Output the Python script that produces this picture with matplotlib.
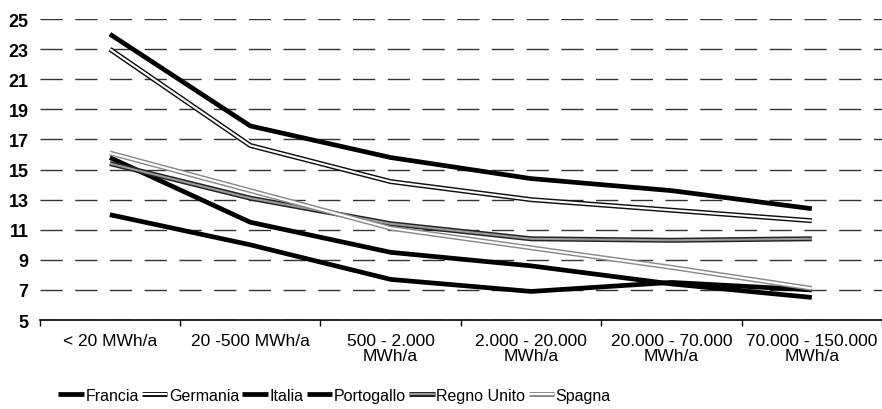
import matplotlib.pyplot as plt
import matplotlib.patheffects as pe
import numpy as np

# price bands (MWh/a) and values per country
categories = ["< 20 MWh/a", "20 -500 MWh/a", "500 - 2.000\nMWh/a",
              "2.000 - 20.000\nMWh/a", "20.000 - 70.000\nMWh/a",
              "70.000 - 150.000\nMWh/a"]
francia = [24.0, 17.9, 15.8, 14.4, 13.6, 12.4]
germania = [23.0, 16.6, 14.2, 13.0, 12.3, 11.6]
italia = [15.8, 11.5, 9.5, 8.6, 7.4, 6.5]
portogallo = [12.0, 10.0, 7.7, 6.9, 7.5, 7.0]
regno_unito = [15.4, 13.1, 11.4, 10.4, 10.3, 10.4]
spagna = [16.1, 13.6, 11.1, 9.8, 8.5, 7.1]

plt.rcParams["font.family"] = ["Liberation Sans", "DejaVu Sans"]

fig = plt.figure(figsize=(8.82, 4.10), dpi=100)
ax = fig.add_axes([0.045, 0.217, 0.955, 0.734])

x = np.arange(len(categories))

def solid(y, label):
    ax.plot(x, y, color="black", lw=3.4, label=label, solid_capstyle="butt", zorder=3)

def double(y, label, edge, inner):
    ax.plot(x, y, color=inner, lw=1.5, label=label, solid_capstyle="butt", zorder=3,
            path_effects=[pe.Stroke(linewidth=3.6, foreground=edge), pe.Normal()])

solid(francia, "Francia")
double(germania, "Germania", "#111111", "white")
solid(italia, "Italia")
solid(portogallo, "Portogallo")
double(regno_unito, "Regno Unito", "#222222", "#9a9a9a")
double(spagna, "Spagna", "#8a8a8a", "white")

ax.set_xlim(-0.5, len(categories) - 0.5)
ax.set_ylim(5, 25)
ax.set_yticks(range(5, 26, 2))
ax.yaxis.grid(True, color="#333333", lw=1, linestyle=(0, (16, 9)))
ax.set_axisbelow(True)

ax.set_xticks(x)
ax.set_xticklabels(categories, fontsize=12.5, linespacing=1.05)
ax.set_xticks(np.arange(-0.5, len(categories)), minor=True)
ax.tick_params(axis="x", which="major", length=0, pad=9)
ax.tick_params(axis="x", which="minor", length=4, direction="out", width=1)
ax.tick_params(axis="y", length=0, labelsize=13, pad=8)
for t in ax.get_yticklabels():
    t.set_fontweight("bold")

for s in ["left", "right", "top"]:
    ax.spines[s].set_visible(False)
ax.spines["bottom"].set_linewidth(1.2)

ax.legend(loc="center", bbox_to_anchor=(0.35, -0.25), ncol=6, frameon=False,
          fontsize=11.5, handlelength=1.6, handletextpad=0.1, columnspacing=0.2)

fig.savefig("out.png", dpi=100)
